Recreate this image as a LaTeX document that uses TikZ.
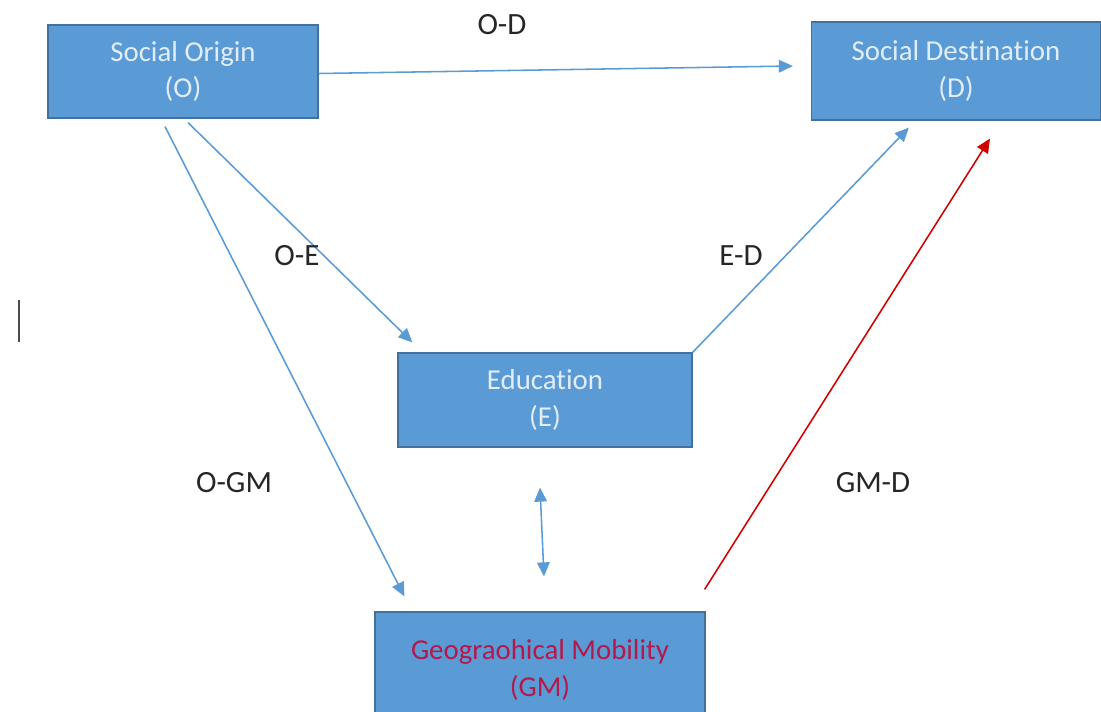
\documentclass[tikz,border=0pt]{standalone}
\usepackage{fontspec}
\setmainfont{Carlito}[Ligatures=NoCommon]
\usetikzlibrary{arrows.meta,calc}
\definecolor{boxblue}{HTML}{5B9BD5}
\definecolor{boxline}{HTML}{41719C}
\definecolor{boxtext}{HTML}{E2EDF8}
\definecolor{gmtext}{HTML}{B5184A}
\definecolor{linkred}{HTML}{D00000}
\definecolor{labelgray}{HTML}{262626}

\begin{document}
\begin{tikzpicture}[
        x=0.025cm, y=-0.025cm,
        factor/.style={
            rectangle,
            draw=boxline,
            fill=boxblue,
            line width=0.8pt,
            text=boxtext,
            align=center,
            inner sep=0pt,
            font=\fontsize{20.5}{26}\selectfont
        },
        link/.style={
            draw=boxblue,
            line width=1.1pt,
            -{Triangle[length=10pt,width=9pt]}
        },
        redlink/.style={
            link,
            draw=linkred
        },
        pathlabel/.style={
            text=labelgray,
            font=\fontsize{22}{26}\selectfont
        }
    ]

    \clip (0,0) rectangle (1101,712);
    \useasboundingbox (0,0) rectangle (1101,712);

    % Factors
    \node[factor, minimum width=6.75cm, minimum height=2.325cm]
        (O) at (183,71.5) {Social Origin\\(O)};

    \node[factor, minimum width=7.225cm, minimum height=2.45cm]
        (D) at (956,71) {Social Destination\\(D)};

    \node[factor, minimum width=7.35cm, minimum height=2.35cm]
        (E) at (545,400) {Education\\(E)};

    \node[factor, minimum width=8.25cm, minimum height=2.9cm, text=gmtext]
        (GM) at (540,670) {Geograohical Mobility\\(GM)};

    % Paths
    \draw[link] ($(O.east)+(0,2)$) -- ($(D.west)+(-18,-5)$);
    \draw[link] ($(O.south)+(5,4)$) -- ($(E.north west)+(15,-10)$);
    \draw[link] ($(O.south)+(-18,8)$) -- ($(GM.north west)+(30,-15)$);
    \draw[link] (E.north east) -- ($(D.south west)+(98,7)$);
    \draw[redlink] ($(GM.north east)+(-1,-22)$) -- ($(D.south)+(34,18)$);
    \draw[link, {Triangle[length=10pt,width=9pt]}-{Triangle[length=10pt,width=9pt]}]
        ($(E.south)+(-5,40)$) -- ($(GM.north)+(4,-35)$);

    % Path labels
    \node[pathlabel] (lOD) at (502,25) {O-D};
    \node[pathlabel] (lOE) at (297,256) {O-E};
    \node[pathlabel] (lED) at (741,256) {E-D};
    \node[pathlabel] (lOGM) at (234,483) {O-GM};
    \node[pathlabel] (lGMD) at (873,483) {GM-D};

    % Cursor mark
    \draw[black!70, line width=1.2pt] (19,300) -- (19,342);

\end{tikzpicture}
\end{document}
